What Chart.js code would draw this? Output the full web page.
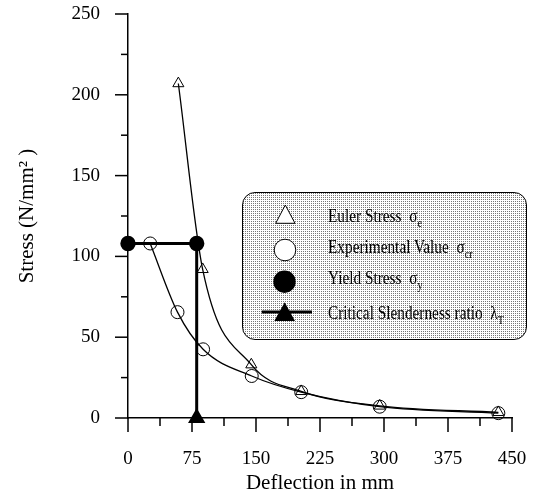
<!DOCTYPE html>
<html>
<head>
<meta charset="utf-8">
<script src="https://cdn.jsdelivr.net/npm/chart.js@4"></script>
<style>
  html, body { margin: 0; padding: 0; background: #fff; }
  #wrap { position: relative; width: 533px; height: 497px; overflow: hidden; }
  #c { position: absolute; left: 0; top: 0; }
  #legendBox {
    position: absolute; left: 242px; top: 192px; width: 285px; height: 148px;
    box-sizing: border-box; border: 1.3px solid #000; border-radius: 13px;
    background-color: #fff;
    background-image: radial-gradient(circle at 0.5px 0.5px, #777 0.55px, transparent 0.7px);
    background-size: 2px 2px;
  }
  .lt {
    position: absolute; left: 328px; font-family: "Liberation Serif", "Times New Roman", serif;
    font-size: 18px; line-height: 20px; white-space: nowrap; color: #000;
    transform: scaleX(0.85); transform-origin: 0 50%;
  }
  .lt .sub { font-size: 12px; position: relative; top: 5px; }
  #marks { position: absolute; left: 0; top: 0; }
</style>
</head>
<body>
<div id="wrap">
  <canvas id="c" width="533" height="497"></canvas>
  <div id="legendBox"></div>
  <svg id="marks" width="533" height="497">
    <polygon points="285.3,205 275.7,223.3 295,223.3" fill="#fff" stroke="#000" stroke-width="1"/>
    <circle cx="285" cy="250" r="10.8" fill="#fff" stroke="#000" stroke-width="1"/>
    <circle cx="284.5" cy="281.7" r="11.2" fill="#000"/>
    <line x1="261.7" y1="312" x2="312" y2="312" stroke="#000" stroke-width="3"/>
    <polygon points="284.7,302.3 274.3,321 295,321" fill="#000"/>
  </svg>
  <div class="lt" style="top:206px">Euler Stress&nbsp;&nbsp;σ<span class="sub">e</span></div>
  <div class="lt" style="top:237px">Experimental Value&nbsp;&nbsp;σ<span class="sub">cr</span></div>
  <div class="lt" style="top:268px">Yield Stress&nbsp;&nbsp;σ<span class="sub">y</span></div>
  <div class="lt" style="top:303px">Critical Slenderness ratio&nbsp;&nbsp;λ<span class="sub">T</span></div>
</div>
<script>
// ---- data ----
const eulerX = [59, 87.5, 144.5, 203, 295, 434];
const eulerY = [207, 92, 33, 16.5, 7.5, 3.5];
const expX = [26, 58, 88, 145, 203, 295, 434];
const expY = [108, 65.5, 42.5, 26, 16, 7, 3];
const yieldX = [0, 80.5];
const yieldY = [108, 108];
const critX = [80.5, 80.5];
const critY = [108, 0];
const xTickLabels = [0, 75, 150, 225, 300, 375, 450];
const yTickLabels = [0, 50, 100, 150, 200, 250];

const pts = (xs, ys) => xs.map((x, i) => ({ x: x, y: ys[i] }));

const FONT = '"Liberation Serif", "Times New Roman", serif';
Chart.defaults.font.family = FONT;
Chart.defaults.color = '#000';

const tickPlugin = {
  id: 'customTicks',
  afterDraw(chart) {
    const { ctx, scales } = chart;
    const x = scales.x, y = scales.y;
    ctx.save();
    ctx.strokeStyle = '#000';
    ctx.lineWidth = 1.5;
    x.ticks.forEach(t => {
      const px = x.getPixelForValue(t.value);
      const len = xTickLabels.includes(t.value) ? 14 : 8;
      ctx.beginPath();
      ctx.moveTo(px, x.top);
      ctx.lineTo(px, x.top + len);
      ctx.stroke();
    });
    y.ticks.forEach(t => {
      const py = y.getPixelForValue(t.value);
      const len = yTickLabels.includes(t.value) ? 13 : 7;
      ctx.beginPath();
      ctx.moveTo(y.right, py);
      ctx.lineTo(y.right - len, py);
      ctx.stroke();
    });
    ctx.restore();
  }
};

const zeroPad = s => { s.paddingTop = 0; s.paddingBottom = 0; s.paddingLeft = 0; s.paddingRight = 0; };

new Chart(document.getElementById('c'), {
  type: 'line',
  data: {
    datasets: [
      {
        label: 'Yield Stress',
        data: pts(yieldX, yieldY),
        borderColor: '#000', borderWidth: 3,
        pointStyle: 'circle', pointRadius: 6.2,
        pointBackgroundColor: '#000', pointBorderColor: '#000',
        clip: false
      },
      {
        label: 'Critical Slenderness ratio',
        data: pts(critX, critY),
        borderColor: '#000', borderWidth: 3,
        pointStyle: 'triangle', pointRadius: [0, 7],
        pointBackgroundColor: '#000', pointBorderColor: '#000',
        clip: false
      },
      {
        label: 'Euler Stress',
        data: pts(eulerX, eulerY),
        borderColor: '#000', borderWidth: 1.3,
        cubicInterpolationMode: 'monotone',
        pointStyle: 'triangle', pointRadius: 6.4,
        pointBackgroundColor: 'rgba(255,255,255,0)', pointBorderColor: '#000', pointBorderWidth: 1,
        clip: false
      },
      {
        label: 'Experimental Value',
        data: pts(expX, expY),
        borderColor: '#000', borderWidth: 1.3,
        cubicInterpolationMode: 'monotone',
        pointStyle: 'circle', pointRadius: 6.5,
        pointBackgroundColor: 'rgba(255,255,255,0)', pointBorderColor: '#000', pointBorderWidth: 1,
        clip: false
      }
    ]
  },
  options: {
    responsive: false,
    animation: false,
    layout: { padding: { top: 14, right: 21, left: 0, bottom: 0 } },
    plugins: { legend: { display: false }, tooltip: { enabled: false } },
    scales: {
      x: {
        type: 'linear', min: 0, max: 450,
        grid: { display: false, drawTicks: false },
        border: { display: true, color: '#000', width: 1.5 },
        ticks: {
          stepSize: 37.5, padding: 30, maxRotation: 0, autoSkip: false,
          font: { size: 19, family: FONT }, color: '#000',
          callback: v => xTickLabels.includes(v) ? String(v) : ''
        },
        title: { display: true, text: 'Deflection in mm', font: { size: 21, family: FONT }, color: '#000', padding: { top: 0, bottom: 1 } },
        afterFit: s => { s.height = 79; zeroPad(s); }
      },
      y: {
        type: 'linear', min: 0, max: 250,
        grid: { display: false, drawTicks: false },
        border: { display: true, color: '#000', width: 1.5 },
        ticks: {
          stepSize: 25, padding: 28, autoSkip: false,
          font: { size: 19, family: FONT }, color: '#000',
          callback: v => yTickLabels.includes(v) ? String(v) : ''
        },
        title: { display: true, text: 'Stress (N/mm² )', font: { size: 21, family: FONT }, color: '#000', padding: { top: 15, bottom: 0 } },
        afterFit: s => { s.width = 128; zeroPad(s); }
      }
    }
  },
  plugins: [tickPlugin]
});
</script>
</body>
</html>
